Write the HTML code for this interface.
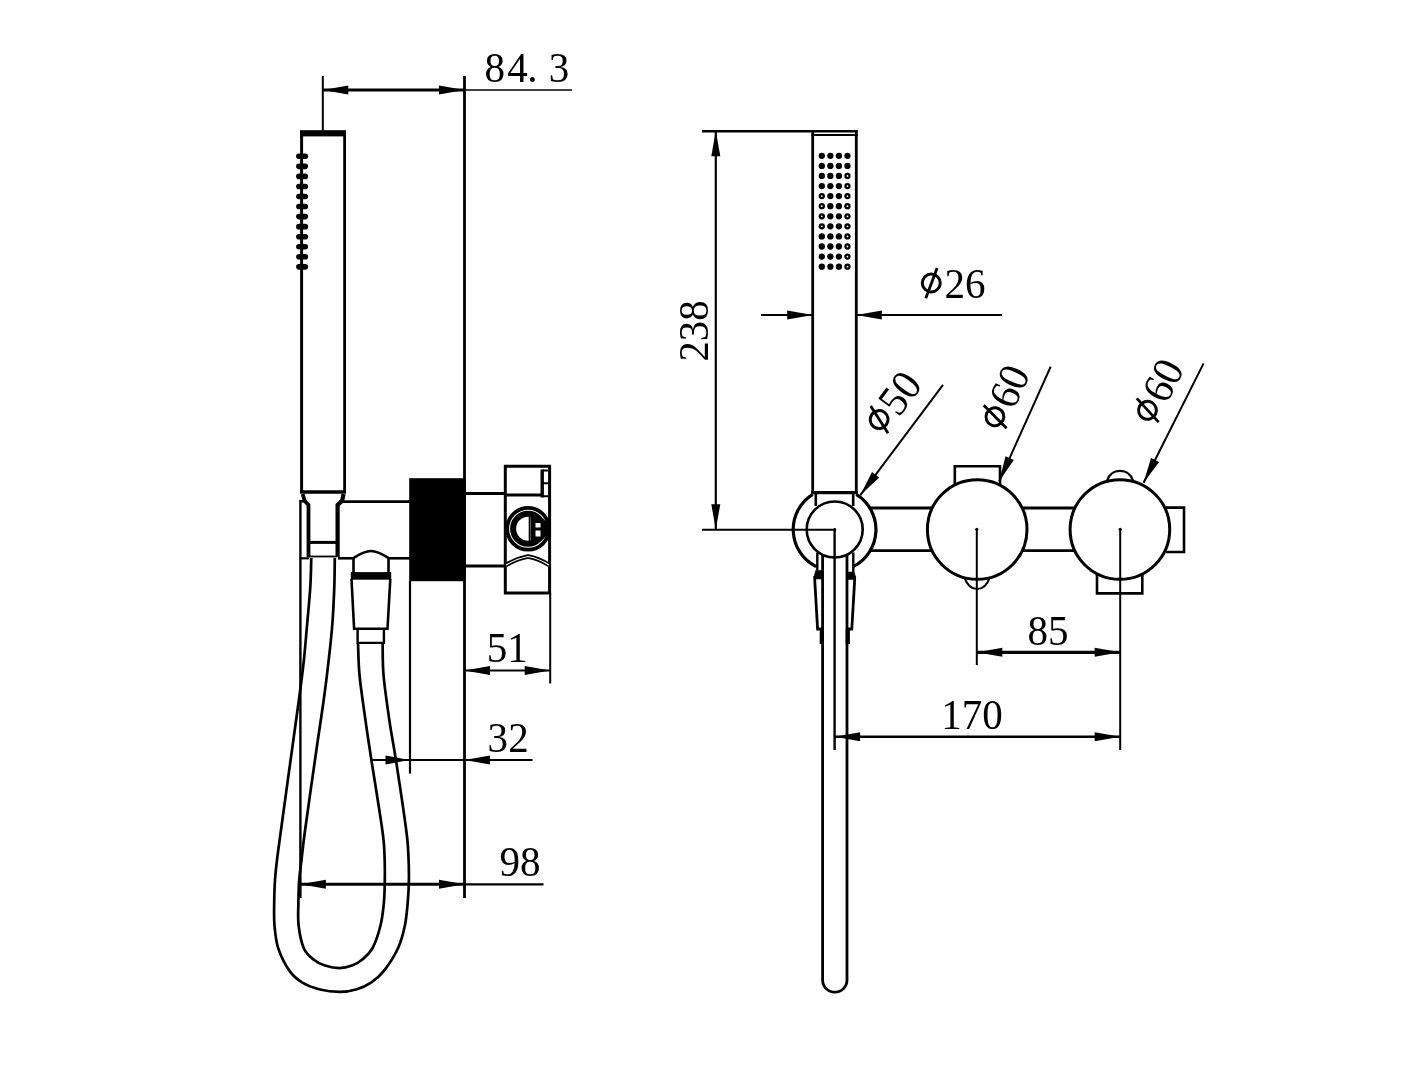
<!DOCTYPE html>
<html><head><meta charset="utf-8"><title>Drawing</title>
<style>
html,body{margin:0;padding:0;background:#fff;}
body{width:1408px;height:1088px;overflow:hidden;}
svg{display:block;filter:grayscale(1);}
svg text{font-family:"Liberation Serif",serif;fill:#000;stroke:none;}
</style></head><body>
<svg width="1408" height="1088" viewBox="0 0 1408 1088" stroke="#000" fill="none">
<rect x="0" y="0" width="1408" height="1088" fill="#fff" stroke="none"/>
<line x1="464.5" y1="76" x2="464.5" y2="898" stroke-width="2.8" stroke-linecap="butt"/>
<line x1="322.8" y1="76" x2="322.8" y2="131" stroke-width="2" stroke-linecap="butt"/>
<line x1="322.8" y1="90" x2="464.5" y2="90" stroke-width="3.0" stroke-linecap="butt"/>
<line x1="464.5" y1="90" x2="572" y2="90" stroke-width="1.4" stroke-linecap="butt"/>
<polygon points="322.8,90.0 348.3,85.5 348.3,94.5" fill="#000" stroke="none"/>
<polygon points="464.5,90.0 439.0,94.5 439.0,85.5" fill="#000" stroke="none"/>
<text x="0" y="0" font-size="43" text-anchor="middle" transform="translate(494.75 81.6) scale(0.955 1)">8</text>
<text x="0" y="0" font-size="43" text-anchor="middle" transform="translate(517.4 81.6) scale(0.955 1)">4</text>
<text x="0" y="0" font-size="43" text-anchor="middle" transform="translate(532.5 81.6) scale(0.955 1)">.</text>
<text x="0" y="0" font-size="43" text-anchor="middle" transform="translate(558.9 81.6) scale(0.955 1)">3</text>
<line x1="301.6" y1="133" x2="301.6" y2="492" stroke-width="3.0" stroke-linecap="butt"/>
<line x1="344.6" y1="133" x2="344.6" y2="492" stroke-width="2.8" stroke-linecap="butt"/>
<rect x="300" y="130.2" width="46" height="6.2" fill="#000" stroke="none"/>
<line x1="300" y1="492" x2="346" y2="492" stroke-width="3.6" stroke-linecap="butt"/>
<rect x="296.1" y="153.50" width="12" height="5.6" rx="2.8" fill="#000" stroke="none"/>
<rect x="296.1" y="163.55" width="12" height="5.6" rx="2.8" fill="#000" stroke="none"/>
<rect x="296.1" y="173.60" width="12" height="5.6" rx="2.8" fill="#000" stroke="none"/>
<rect x="296.1" y="183.65" width="12" height="5.6" rx="2.8" fill="#000" stroke="none"/>
<rect x="296.1" y="193.70" width="12" height="5.6" rx="2.8" fill="#000" stroke="none"/>
<rect x="296.1" y="203.75" width="12" height="5.6" rx="2.8" fill="#000" stroke="none"/>
<rect x="296.1" y="213.80" width="12" height="5.6" rx="2.8" fill="#000" stroke="none"/>
<rect x="296.1" y="223.85" width="12" height="5.6" rx="2.8" fill="#000" stroke="none"/>
<rect x="296.1" y="233.90" width="12" height="5.6" rx="2.8" fill="#000" stroke="none"/>
<rect x="296.1" y="243.95" width="12" height="5.6" rx="2.8" fill="#000" stroke="none"/>
<rect x="296.1" y="254.00" width="12" height="5.6" rx="2.8" fill="#000" stroke="none"/>
<rect x="296.1" y="264.05" width="12" height="5.6" rx="2.8" fill="#000" stroke="none"/>
<path d="M302.6 494 L304.8 501 L308.5 505 L308.5 557" stroke-width="3.8" fill="none" />
<path d="M343.6 494 L342.1 501 L337.6 505 L337.6 557" stroke-width="4.2" fill="none" />
<path d="M304.8 501.2 L300.4 501.2 L300.4 898" stroke-width="2.4" fill="none" />
<line x1="309" y1="542.4" x2="337" y2="542.4" stroke-width="3" stroke-linecap="butt"/>
<line x1="309" y1="556.5" x2="337" y2="556.5" stroke-width="1.8" stroke-linecap="butt"/>
<line x1="339" y1="501.6" x2="410" y2="501.6" stroke-width="2.8" stroke-linecap="butt"/>
<line x1="300" y1="558.3" x2="309" y2="558.3" stroke-width="2.2" stroke-linecap="butt"/>
<line x1="338" y1="558.3" x2="353.5" y2="558.3" stroke-width="2.6" stroke-linecap="butt"/>
<line x1="388.5" y1="558.3" x2="410" y2="558.3" stroke-width="2.6" stroke-linecap="butt"/>
<path d="M353.5 573 L353.5 558 C359 554.5 364 551 371 551 C378 551 383 554.5 388.5 558 L388.5 573" stroke-width="2.6" fill="none" />
<rect x="350.8" y="572.1" width="40.4" height="7.6" fill="#000" stroke="none"/>
<path d="M351.5 579 L354.1 628.8 L387.5 628.8 L390.3 579" stroke-width="2.6" fill="none" />
<path d="M357.6 628.8 L357.6 642.9 L383.9 642.9 L383.9 628.8" stroke-width="2.4" fill="none" />
<rect x="409.2" y="478.2" width="56.5" height="103" fill="#000" stroke="none"/>
<line x1="410" y1="581" x2="410" y2="773.6" stroke-width="2.2" stroke-linecap="butt"/>
<line x1="465" y1="493.4" x2="505" y2="493.4" stroke-width="3" stroke-linecap="butt"/>
<line x1="465" y1="566" x2="505" y2="566" stroke-width="3" stroke-linecap="butt"/>
<path d="M505.3 466.3 L549.6 466.3 L549.6 593.1 L505.3 593.1 Z" stroke-width="3" fill="none" />
<line x1="550.2" y1="593" x2="550.2" y2="683.5" stroke-width="2" stroke-linecap="butt"/>
<line x1="505" y1="495" x2="541" y2="495" stroke-width="3" stroke-linecap="butt"/>
<path d="M542.6 470.4 L548.6 470.4 M542.6 483.3 L548.6 483.3 M542.6 496.2 L548.6 496.2" stroke-width="2" fill="none" />
<line x1="542.2" y1="469.5" x2="542.2" y2="497.5" stroke-width="3.4" stroke-linecap="butt"/>
<circle cx="528.1" cy="528.8" r="20.9" stroke-width="3.8" fill="none"/>
<circle cx="528.1" cy="528.8" r="15.0" stroke-width="6" fill="none"/>
<path d="M531 516.5 L531 541 L538 541 A12.5 12.5 0 0 0 538 516.5 Z" stroke-width="1" fill="#000" />
<rect x="535.5" y="523" width="5" height="4.5" fill="#fff" stroke="none"/>
<rect x="535.5" y="530.5" width="5" height="6" fill="#fff" stroke="none"/>
<line x1="529.5" y1="516" x2="529.5" y2="542" stroke-width="1.6" stroke-linecap="butt"/>
<path d="M506 565 Q517 558.5 528 556.5 Q539 558.5 549 565" stroke-width="4.4" fill="none" />
<path d="M506 565 Q517 558.5 528 556.5 Q539 558.5 549 565" stroke-width="1.1" fill="none" stroke="#fff"/>
<path d="M311.3 558.0 C311.1 562.8 311.0 576.1 310.3 587.0 C309.6 597.9 308.3 611.3 307.2 623.5 C306.1 635.7 305.2 647.8 303.9 660.0 C302.6 672.2 301.3 682.0 299.3 697.0 C297.3 712.0 295.1 727.8 292.0 750.0 C288.9 772.2 283.5 811.7 281.0 830.0 C278.5 848.3 278.0 851.7 277.0 860.0 C276.0 868.3 275.5 872.9 275.0 880.0 C274.5 887.1 274.3 895.1 274.2 902.7 C274.1 910.3 273.8 917.9 274.5 925.5 C275.2 933.1 275.7 940.6 278.2 948.2 C280.7 955.8 285.5 965.2 289.5 970.9 C293.5 976.6 296.9 979.2 302.0 982.3 C307.1 985.4 313.8 987.9 320.0 989.5 C326.2 991.1 333.3 991.9 339.5 991.9 C345.7 991.9 351.7 990.8 357.0 989.2 C362.3 987.6 366.9 985.3 371.4 982.3 C375.9 979.2 379.5 976.6 383.9 970.9 C388.3 965.2 394.5 955.8 398.0 948.2 C401.5 940.6 403.3 933.1 404.9 925.5 C406.5 917.9 407.0 910.3 407.7 902.7 C408.4 895.1 408.8 888.0 408.9 880.0 C409.0 872.0 408.8 863.3 408.4 855.0 C407.9 846.7 408.3 846.0 406.2 830.0 C404.1 814.0 398.5 776.7 395.7 758.7 C392.9 740.7 391.6 735.7 389.6 721.9 C387.6 708.1 384.8 689.1 383.6 676.0 C382.4 662.9 382.8 648.5 382.6 643.0" stroke-width="2.7" fill="none" />
<path d="M334.8 558.0 C334.7 562.8 334.7 576.1 334.3 587.0 C333.9 597.9 333.3 611.3 332.4 623.5 C331.5 635.7 330.1 647.8 328.7 660.0 C327.3 672.2 326.2 682.0 324.1 697.0 C322.1 712.0 319.6 727.8 316.4 750.0 C313.2 772.2 307.6 811.7 305.1 830.0 C302.6 848.3 302.5 851.7 301.5 860.0 C300.5 868.3 299.7 872.9 299.2 880.0 C298.7 887.1 298.5 895.1 298.4 902.7 C298.3 910.3 297.7 917.9 298.6 925.5 C299.5 933.1 301.3 942.5 303.8 948.2 C306.3 953.9 309.9 956.6 313.4 959.5 C316.9 962.4 320.6 964.1 325.0 965.5 C329.4 966.9 335.0 968.1 339.5 968.1 C344.0 968.1 348.2 967.0 352.0 965.6 C355.8 964.2 358.9 962.4 362.3 959.5 C365.7 956.6 369.5 953.9 372.5 948.2 C375.5 942.5 378.6 933.1 380.5 925.5 C382.4 917.9 383.2 910.3 383.9 902.7 C384.6 895.1 384.7 888.0 384.8 880.0 C384.9 872.0 384.9 863.3 384.5 855.0 C384.1 846.7 384.5 846.0 382.3 830.0 C380.1 814.0 374.0 776.7 371.2 758.7 C368.5 740.7 367.6 735.7 365.7 721.9 C363.8 708.1 360.9 689.1 359.6 676.0 C358.3 662.9 358.3 648.5 358.0 643.0" stroke-width="2.7" fill="none" />
<line x1="464.5" y1="670.4" x2="550.2" y2="670.4" stroke-width="2.0" stroke-linecap="butt"/>
<polygon points="464.5,670.4 490.0,665.9 490.0,674.9" fill="#000" stroke="none"/>
<polygon points="550.2,670.4 524.7,674.9 524.7,665.9" fill="#000" stroke="none"/>
<text x="0" y="0" font-size="43" text-anchor="middle" transform="translate(507.25 661.8) scale(0.955 1)">51</text>
<line x1="371.5" y1="760" x2="532.5" y2="760" stroke-width="2.0" stroke-linecap="butt"/>
<polygon points="409.5,760.0 385.5,764.5 385.5,755.5" fill="#000" stroke="none"/>
<polygon points="464.5,760.0 490.0,755.5 490.0,764.5" fill="#000" stroke="none"/>
<text x="0" y="0" font-size="43" text-anchor="middle" transform="translate(508.15 752.4) scale(0.955 1)">32</text>
<line x1="300.4" y1="884.3" x2="464.5" y2="884.3" stroke-width="3.0" stroke-linecap="butt"/>
<line x1="464.5" y1="884.3" x2="543.5" y2="884.3" stroke-width="2.2" stroke-linecap="butt"/>
<polygon points="300.4,884.3 325.9,879.8 325.9,888.8" fill="#000" stroke="none"/>
<polygon points="464.5,884.3 439.0,888.8 439.0,879.8" fill="#000" stroke="none"/>
<text x="0" y="0" font-size="43" text-anchor="middle" transform="translate(520 876.3) scale(0.955 1)">98</text>
<line x1="702" y1="131.2" x2="857.8" y2="131.2" stroke-width="2.4" stroke-linecap="butt"/>
<line x1="715.8" y1="130.7" x2="715.8" y2="529.7" stroke-width="2.2" stroke-linecap="butt"/>
<polygon points="715.8,130.7 720.3,156.2 711.3,156.2" fill="#000" stroke="none"/>
<polygon points="715.8,529.7 711.3,504.2 720.3,504.2" fill="#000" stroke="none"/>
<line x1="702" y1="529.7" x2="834.7" y2="529.7" stroke-width="2.0" stroke-linecap="butt"/>
<text x="708" y="331" font-size="43" text-anchor="middle" textLength="61" lengthAdjust="spacingAndGlyphs" transform="rotate(-90 708 331)">238</text>
<line x1="812.7" y1="131" x2="812.7" y2="493" stroke-width="2.8" stroke-linecap="butt"/>
<line x1="856.3" y1="131" x2="856.3" y2="493" stroke-width="2.8" stroke-linecap="butt"/>
<line x1="811.5" y1="135.1" x2="857.8" y2="135.1" stroke-width="2.0" stroke-linecap="butt"/>
<line x1="811.3" y1="492.7" x2="857.7" y2="492.7" stroke-width="3.2" stroke-linecap="butt"/>
<circle cx="821.80" cy="155.80" r="3.15" fill="#000" stroke="none"/>
<circle cx="830.35" cy="155.80" r="3.15" fill="#000" stroke="none"/>
<circle cx="838.90" cy="155.80" r="3.15" fill="#000" stroke="none"/>
<circle cx="847.45" cy="155.80" r="3.15" fill="#000" stroke="none"/>
<circle cx="821.80" cy="165.88" r="3.15" fill="#000" stroke="none"/>
<circle cx="830.35" cy="165.88" r="3.15" fill="#000" stroke="none"/>
<circle cx="838.90" cy="165.88" r="3.15" fill="#000" stroke="none"/>
<circle cx="847.45" cy="165.88" r="3.15" fill="#000" stroke="none"/>
<circle cx="821.80" cy="175.96" r="3.15" fill="#000" stroke="none"/>
<circle cx="830.35" cy="175.96" r="3.15" fill="#000" stroke="none"/>
<circle cx="838.90" cy="175.96" r="3.15" fill="#000" stroke="none"/>
<circle cx="847.45" cy="175.96" r="3.15" fill="#000" stroke="none"/>
<circle cx="847.45" cy="175.96" r="0.9" fill="#fff" stroke="none"/>
<circle cx="821.80" cy="186.04" r="3.15" fill="#000" stroke="none"/>
<circle cx="830.35" cy="186.04" r="3.15" fill="#000" stroke="none"/>
<circle cx="838.90" cy="186.04" r="3.15" fill="#000" stroke="none"/>
<circle cx="847.45" cy="186.04" r="3.15" fill="#000" stroke="none"/>
<circle cx="847.45" cy="186.04" r="0.9" fill="#fff" stroke="none"/>
<circle cx="821.80" cy="196.12" r="3.15" fill="#000" stroke="none"/>
<circle cx="821.80" cy="196.12" r="0.9" fill="#fff" stroke="none"/>
<circle cx="830.35" cy="196.12" r="3.15" fill="#000" stroke="none"/>
<circle cx="838.90" cy="196.12" r="3.15" fill="#000" stroke="none"/>
<circle cx="847.45" cy="196.12" r="3.15" fill="#000" stroke="none"/>
<circle cx="847.45" cy="196.12" r="0.9" fill="#fff" stroke="none"/>
<circle cx="821.80" cy="206.20" r="3.15" fill="#000" stroke="none"/>
<circle cx="821.80" cy="206.20" r="0.9" fill="#fff" stroke="none"/>
<circle cx="830.35" cy="206.20" r="3.15" fill="#000" stroke="none"/>
<circle cx="838.90" cy="206.20" r="3.15" fill="#000" stroke="none"/>
<circle cx="847.45" cy="206.20" r="3.15" fill="#000" stroke="none"/>
<circle cx="847.45" cy="206.20" r="0.9" fill="#fff" stroke="none"/>
<circle cx="821.80" cy="216.28" r="3.15" fill="#000" stroke="none"/>
<circle cx="821.80" cy="216.28" r="0.9" fill="#fff" stroke="none"/>
<circle cx="830.35" cy="216.28" r="3.15" fill="#000" stroke="none"/>
<circle cx="838.90" cy="216.28" r="3.15" fill="#000" stroke="none"/>
<circle cx="847.45" cy="216.28" r="3.15" fill="#000" stroke="none"/>
<circle cx="847.45" cy="216.28" r="0.9" fill="#fff" stroke="none"/>
<circle cx="821.80" cy="226.36" r="3.15" fill="#000" stroke="none"/>
<circle cx="821.80" cy="226.36" r="0.9" fill="#fff" stroke="none"/>
<circle cx="830.35" cy="226.36" r="3.15" fill="#000" stroke="none"/>
<circle cx="838.90" cy="226.36" r="3.15" fill="#000" stroke="none"/>
<circle cx="847.45" cy="226.36" r="3.15" fill="#000" stroke="none"/>
<circle cx="847.45" cy="226.36" r="0.9" fill="#fff" stroke="none"/>
<circle cx="821.80" cy="236.44" r="3.15" fill="#000" stroke="none"/>
<circle cx="830.35" cy="236.44" r="3.15" fill="#000" stroke="none"/>
<circle cx="838.90" cy="236.44" r="3.15" fill="#000" stroke="none"/>
<circle cx="847.45" cy="236.44" r="3.15" fill="#000" stroke="none"/>
<circle cx="847.45" cy="236.44" r="0.9" fill="#fff" stroke="none"/>
<circle cx="821.80" cy="246.52" r="3.15" fill="#000" stroke="none"/>
<circle cx="830.35" cy="246.52" r="3.15" fill="#000" stroke="none"/>
<circle cx="838.90" cy="246.52" r="3.15" fill="#000" stroke="none"/>
<circle cx="847.45" cy="246.52" r="3.15" fill="#000" stroke="none"/>
<circle cx="847.45" cy="246.52" r="0.9" fill="#fff" stroke="none"/>
<circle cx="821.80" cy="256.60" r="3.15" fill="#000" stroke="none"/>
<circle cx="830.35" cy="256.60" r="3.15" fill="#000" stroke="none"/>
<circle cx="838.90" cy="256.60" r="3.15" fill="#000" stroke="none"/>
<circle cx="847.45" cy="256.60" r="3.15" fill="#000" stroke="none"/>
<circle cx="847.45" cy="256.60" r="0.9" fill="#fff" stroke="none"/>
<circle cx="821.80" cy="266.68" r="3.15" fill="#000" stroke="none"/>
<circle cx="830.35" cy="266.68" r="3.15" fill="#000" stroke="none"/>
<circle cx="838.90" cy="266.68" r="3.15" fill="#000" stroke="none"/>
<circle cx="847.45" cy="266.68" r="3.15" fill="#000" stroke="none"/>
<circle cx="847.45" cy="266.68" r="0.9" fill="#fff" stroke="none"/>
<line x1="761" y1="315" x2="812.7" y2="315" stroke-width="2.0" stroke-linecap="butt"/>
<line x1="856.3" y1="315" x2="1002" y2="315" stroke-width="2.0" stroke-linecap="butt"/>
<polygon points="812.7,315.0 787.2,319.5 787.2,310.5" fill="#000" stroke="none"/>
<polygon points="856.3,315.0 881.8,310.5 881.8,319.5" fill="#000" stroke="none"/>
<g transform="translate(920.90 297.70) rotate(0)">
<ellipse cx="10.4" cy="-14.7" rx="9" ry="8.9" stroke-width="3" fill="none"/>
<line x1="4.9" y1="0.6" x2="16.2" y2="-29.6" stroke-width="2.8"/>
<text x="0" y="0" font-size="43" text-anchor="middle" transform="translate(44.15 0) scale(0.955 1)">26</text>
</g>
<circle cx="834.7" cy="529.5" r="28" stroke-width="2.6" fill="none"/>
<path d="M812.7 494.3 A41.5 41.5 0 0 0 816.2 566.6" stroke-width="3.2" fill="none" />
<path d="M856.3 494.3 A41.5 41.5 0 0 1 853.2 566.6" stroke-width="3.2" fill="none" />
<line x1="815.8" y1="493" x2="815.8" y2="506" stroke-width="2.6" stroke-linecap="butt"/>
<line x1="853.2" y1="493" x2="853.2" y2="506" stroke-width="2.6" stroke-linecap="butt"/>
<line x1="817.3" y1="552.5" x2="817.3" y2="570.5" stroke-width="2.4" stroke-linecap="butt"/>
<line x1="853.3" y1="552.5" x2="853.3" y2="572" stroke-width="2.4" stroke-linecap="butt"/>
<path d="M822.6 555 L822.6 980 A12.2 12.2 0 0 0 847 980 L847 555" stroke-width="2.8" fill="none" />
<line x1="834.6" y1="529.5" x2="834.6" y2="750" stroke-width="2.4" stroke-linecap="butt"/>
<path d="M814.8 576 L814.8 581 L817.6 629 L822 629" stroke-width="2.8" fill="none" />
<path d="M854.6 576 L854.6 581 L851.8 629 L847.5 629" stroke-width="2.8" fill="none" />
<path d="M815.6 570.5 L822.5 570.5 L822.5 579 L814 579 L814 577 Z" stroke-width="0.5" fill="#000" />
<path d="M847 572 L854.2 572 L855.6 577 L855.6 579.6 L847 579.6 Z" stroke-width="0.5" fill="#000" />
<line x1="821.8" y1="629" x2="821.8" y2="644" stroke-width="4.2" stroke-linecap="butt"/>
<line x1="847.8" y1="629" x2="847.8" y2="644" stroke-width="4.2" stroke-linecap="butt"/>
<line x1="870.5" y1="508" x2="932" y2="508" stroke-width="2.8" stroke-linecap="butt"/>
<line x1="870.5" y1="550.6" x2="932" y2="550.6" stroke-width="2.8" stroke-linecap="butt"/>
<line x1="1022" y1="508" x2="1075" y2="508" stroke-width="2.8" stroke-linecap="butt"/>
<line x1="1022" y1="550.6" x2="1075" y2="550.6" stroke-width="2.8" stroke-linecap="butt"/>
<circle cx="977.2" cy="529.5" r="49.8" stroke-width="3" fill="none"/>
<circle cx="1119.9" cy="529.5" r="49.8" stroke-width="3" fill="none"/>
<path d="M954.8 485 L954.8 466.3 L1000 466.3 L1000 486" stroke-width="2.6" fill="none" />
<path d="M964.7 578 Q968.5 589 977.1 589 Q985.7 589 989.6 578" stroke-width="2.2" fill="none" />
<path d="M1106.9 481 Q1110 470.8 1120 470.8 Q1130 470.8 1133.2 481" stroke-width="2.2" fill="none" />
<path d="M1097 574 L1097 593.4 L1142.3 593.4 L1142.3 574" stroke-width="2.6" fill="none" />
<path d="M1166 507.6 L1184 507.6 L1184 552 L1166 552" stroke-width="2.6" fill="none" />
<line x1="976.8" y1="529.3" x2="976.8" y2="665" stroke-width="2.0" stroke-linecap="butt"/>
<line x1="1120.2" y1="529.3" x2="1120.2" y2="750" stroke-width="2.0" stroke-linecap="butt"/>
<circle cx="976.8" cy="529.3" r="1.6" fill="#000" stroke="none"/>
<circle cx="1120.2" cy="529.3" r="1.6" fill="#000" stroke="none"/>
<circle cx="834.7" cy="529.5" r="1.6" fill="#000" stroke="none"/>
<line x1="976.8" y1="652.3" x2="1120.2" y2="652.3" stroke-width="3.2" stroke-linecap="butt"/>
<polygon points="976.8,652.3 1002.3,647.8 1002.3,656.8" fill="#000" stroke="none"/>
<polygon points="1120.2,652.3 1094.7,656.8 1094.7,647.8" fill="#000" stroke="none"/>
<text x="0" y="0" font-size="43" text-anchor="middle" transform="translate(1048.05 645) scale(0.955 1)">85</text>
<line x1="834.6" y1="736.8" x2="1120.2" y2="736.8" stroke-width="2.4" stroke-linecap="butt"/>
<polygon points="834.6,736.8 860.1,732.3 860.1,741.3" fill="#000" stroke="none"/>
<polygon points="1120.2,736.8 1094.7,741.3 1094.7,732.3" fill="#000" stroke="none"/>
<text x="0" y="0" font-size="43" text-anchor="middle" transform="translate(972 729.2) scale(0.955 1)">170</text>
<line x1="943" y1="384.8" x2="860.3" y2="495.2" stroke-width="2.0" stroke-linecap="butt"/>
<polygon points="860.3,495.2 872.0,472.1 879.2,477.5" fill="#000" stroke="none"/>
<line x1="1050.7" y1="366.6" x2="999.2" y2="481.3" stroke-width="2.0" stroke-linecap="butt"/>
<polygon points="999.2,481.3 1005.5,456.2 1013.8,459.9" fill="#000" stroke="none"/>
<line x1="1203.6" y1="363.4" x2="1143.6" y2="482.8" stroke-width="2.0" stroke-linecap="butt"/>
<polygon points="1143.6,482.8 1151.0,458.0 1159.1,462.0" fill="#000" stroke="none"/>
<g transform="translate(884.60 436.75) rotate(-53)">
<ellipse cx="10.4" cy="-14.7" rx="9" ry="8.9" stroke-width="3" fill="none"/>
<line x1="4.9" y1="0.6" x2="16.2" y2="-29.6" stroke-width="2.8"/>
<text x="0" y="0" font-size="43" text-anchor="middle" transform="translate(44.15 0) scale(0.955 1)">50</text>
</g>
<g transform="translate(1003.96 432.36) rotate(-65.5)">
<ellipse cx="10.4" cy="-14.7" rx="9" ry="8.9" stroke-width="3" fill="none"/>
<line x1="4.9" y1="0.6" x2="16.2" y2="-29.6" stroke-width="2.8"/>
<text x="0" y="0" font-size="43" text-anchor="middle" transform="translate(44.15 0) scale(0.955 1)">60</text>
</g>
<g transform="translate(1155.90 426.20) rotate(-63.2)">
<ellipse cx="10.4" cy="-14.7" rx="9" ry="8.9" stroke-width="3" fill="none"/>
<line x1="4.9" y1="0.6" x2="16.2" y2="-29.6" stroke-width="2.8"/>
<text x="0" y="0" font-size="43" text-anchor="middle" transform="translate(44.15 0) scale(0.955 1)">60</text>
</g>
</svg>
</body></html>
